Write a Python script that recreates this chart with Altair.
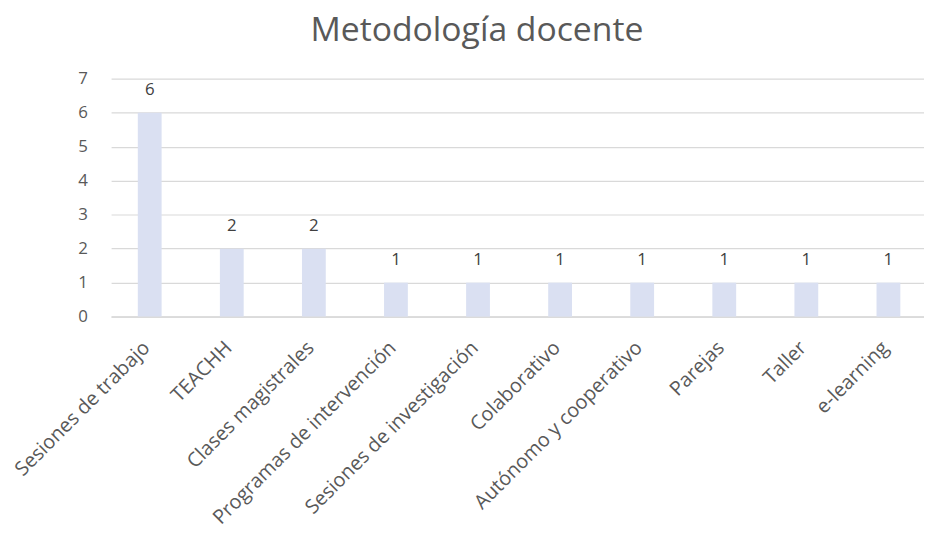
import altair as alt
import pandas as pd

categorias = ["Sesiones de trabajo", "TEACHH", "Clases magistrales", "Programas de intervención",
              "Sesiones de investigación", "Colaborativo", "Autónomo y cooperativo", "Parejas",
              "Taller", "e-learning"]
valores = [6, 2, 2, 1, 1, 1, 1, 1, 1, 1]
ticks_y = [0, 1, 2, 3, 4, 5, 6, 7]

df = pd.DataFrame({"cat": categorias, "val": valores})

FONT = "Open Sans"
GRAY = "#595959"

x = alt.X("cat:N", sort=categorias, title=None,
          scale=alt.Scale(paddingInner=0.71, paddingOuter=0.307, align=0.53),
          axis=alt.Axis(labelAngle=-45, labelAlign="right", labelBaseline="middle",
                        labelFont=FONT, labelFontSize=20, labelColor=GRAY,
                        labelPadding=28, labelOffset=-3, ticks=False, domainColor="#D9D9D9",
                        domainWidth=1.5, labelLimit=500))
y = alt.Y("val:Q", title=None,
          scale=alt.Scale(domain=[0, 7], nice=False),
          axis=alt.Axis(values=ticks_y, domain=False, ticks=False,
                        labelFont=FONT, labelFontSize=17, labelColor=GRAY,
                        labelPadding=24, gridColor="#D9D9D9", gridWidth=1.2))

bars = alt.Chart(df).mark_bar(color="#DAE0F2").encode(x=x, y=y)
text = alt.Chart(df).mark_text(baseline="bottom", dy=-14, font=FONT, fontSize=17,
                               color="#404040").encode(x=x, y=y, text="val:Q")

chart = alt.layer(bars, text).properties(
    width=820, height=240,
    autosize=alt.AutoSizeParams(type="none"),
    padding={"left": 104, "top": 69, "right": 0, "bottom": 220},
    title=alt.TitleParams("Metodología docente", font=FONT, fontSize=34,
                          fontWeight="normal", color=GRAY, anchor="middle",
                          dx=-41, offset=22),
).configure_view(stroke=None)

chart.save("out.html", embed_options={"renderer": "svg", "actions": False})
